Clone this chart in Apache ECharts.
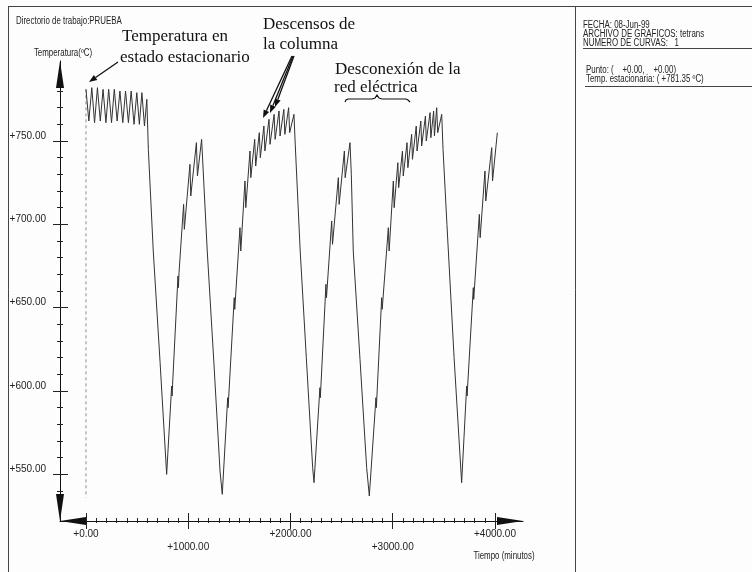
<!DOCTYPE html>
<html>
<head>
<meta charset="utf-8">
<title>Temperatura en estado estacionario</title>
<script src="https://cdn.jsdelivr.net/npm/echarts@6.0.0/dist/echarts.min.js"></script>
<style>
  html, body { margin: 0; padding: 0; background: #fdfdfd; }
  #chart { width: 752px; height: 572px; }
</style>
</head>
<body>
<div id="chart"></div>
<script>
// Valores: [tiempo (minutos), temperatura (ºC)]
const estacionario = [[0, 781], [28, 762], [57, 782], [84, 761], [112, 782], [140, 762], [167, 781],
    [195, 761], [222, 781], [250, 761], [277, 781], [305, 762], [332, 780], [360, 761], [387, 780],
    [415, 761], [442, 780], [470, 760], [497, 779], [522, 760], [547, 779], [572, 759], [595, 775]];

const ciclo1 = [[610, 745], [658, 684], [725, 617], [789, 550], [838, 603], [842, 597], [847, 604],
    [900, 669], [904, 662], [910, 671], [955, 712], [962, 697], [1017, 736], [1025, 717],
    [1080, 749], [1090, 729], [1131, 751]];

const ciclo2 = [[1186, 684], [1250, 618], [1311, 552], [1333, 538], [1386, 596], [1390, 590],
    [1450, 656], [1455, 649], [1506, 698], [1514, 684], [1555, 726], [1563, 710], [1604, 744],
    [1612, 728], [1650, 751], [1660, 735], [1695, 755], [1705, 740], [1740, 759], [1750, 744],
    [1790, 763], [1800, 748], [1840, 766], [1850, 751], [1888, 768], [1898, 753], [1935, 769],
    [1945, 754], [1982, 770], [1992, 755], [2034, 766]];

const ciclo3 = [[2045, 750], [2095, 684], [2155, 620], [2217, 554], [2230, 545], [2288, 602],
    [2292, 596], [2347, 664], [2352, 656], [2403, 702], [2411, 688], [2468, 728], [2476, 712],
    [2527, 744], [2535, 728], [2582, 749]];

const ciclo4 = [[2595, 730], [2614, 684], [2680, 619], [2745, 554], [2771, 537], [2836, 596],
    [2840, 590], [2892, 656], [2897, 649], [2957, 698], [2965, 684], [3006, 726], [3014, 710],
    [3050, 737], [3058, 722], [3095, 744], [3103, 729], [3140, 749], [3148, 734], [3185, 754],
    [3193, 739], [3230, 759], [3238, 744], [3275, 762], [3283, 747], [3320, 765], [3328, 750],
    [3365, 767], [3373, 752], [3400, 768], [3408, 753], [3430, 770], [3440, 755], [3479, 766]];

const ciclo5 = [[3492, 745], [3530, 700], [3600, 620], [3674, 545], [3723, 603], [3727, 597],
    [3788, 662], [3792, 655], [3847, 706], [3855, 692], [3902, 732], [3910, 714], [3968, 746],
    [3976, 726], [4023, 755]];

// linea discontinua en t = 0
const guiaInicio = [[0, 781], [0, 536]];

// rangos de los ejes
const xRango = [-254, 4274];
const yRango = [522, 798];
const xMarcas = [0, 4000];
const yMarcas = [550, 750];
const yMarcasMenores = [540, 780];

const curva = [].concat(estacionario, ciclo1, ciclo2, ciclo3, ciclo4, ciclo5);

const FUENTE = "'Liberation Sans', Arial, sans-serif";
const SERIF = "'Liberation Serif', 'Times New Roman', serif";
const NEGRO = '#222';

// zona del grafico en pixeles
const zona = {left: 60, top: 61, width: 463, height: 460};
const sx = zona.width / (xRango[1] - xRango[0]);
const sy = zona.height / (yRango[1] - yRango[0]);

function gridX(min, max) {
    return {left: zona.left + (min - xRango[0]) * sx, width: (max - min) * sx,
        top: zona.top, height: zona.height, outerBoundsMode: 'none'};
}
function gridY(min, max) {
    return {left: zona.left, width: zona.width, top: zona.top + (yRango[1] - max) * sy,
        height: (max - min) * sy, outerBoundsMode: 'none'};
}

function ejeOculto(grid) {
    return {type: 'value', gridIndex: grid, show: false, min: 0, max: 1};
}

function ejeMarcas(dim, grid, min, max, intervalo, dentro, largo, etiquetas) {
    return {
        type: 'value',
        gridIndex: grid,
        min: min,
        max: max,
        interval: intervalo,
        position: dim === 'x' ? 'bottom' : 'left',
        axisLine: {show: false, onZero: false},
        splitLine: {show: false},
        axisTick: {show: true, inside: dentro, length: largo, lineStyle: {color: NEGRO, width: 1}},
        axisLabel: etiquetas || {show: false},
    };
}

// texto estrecho, como la fuente original
function texto(x, y, t, extra) {
    return {
        type: 'text', x: x, y: y, z: 10, scaleX: 0.79,
        style: Object.assign({text: t, fill: NEGRO, fontFamily: FUENTE, fontSize: 10,
            verticalAlign: 'middle', align: 'left'}, extra || {}),
    };
}

function nota(x, y, t) {
    const el = texto(x, y, t, {fontFamily: SERIF, fontSize: 17, fill: '#111'});
    el.scaleX = 1;
    return el;
}

function flecha(x1, y1, x2, y2) {
    const ang = Math.atan2(y2 - y1, x2 - x1);
    const L = 8, W = 3;
    const bx = x2 - L * Math.cos(ang), by = y2 - L * Math.sin(ang);
    const px = -Math.sin(ang) * W, py = Math.cos(ang) * W;
    return [
        {type: 'line', z: 10, shape: {x1: x1, y1: y1, x2: bx, y2: by}, style: {stroke: '#111', lineWidth: 1.3}},
        {type: 'polygon', z: 10, shape: {points: [[x2, y2], [bx + px, by + py], [bx - px, by - py]]}, style: {fill: '#111'}},
    ];
}

const marco = {stroke: '#444', lineWidth: 1};

const graficos = [
    {type: 'line', shape: {x1: 8, y1: 6.5, x2: 752, y2: 6.5}, style: marco},
    {type: 'line', shape: {x1: 8.5, y1: 6.5, x2: 8.5, y2: 572}, style: marco},
    {type: 'line', shape: {x1: 575.5, y1: 6.5, x2: 575.5, y2: 572}, style: marco},
    {type: 'line', shape: {x1: 583, y1: 48.5, x2: 752, y2: 48.5}, style: marco},
    {type: 'line', shape: {x1: 585, y1: 86.5, x2: 752, y2: 86.5}, style: marco},
    texto(16, 21, 'Directorio de trabajo:PRUEBA'),
    texto(63, 53, 'Temperatura(ºC)', {align: 'center'}),
    texto(583, 25, 'FECHA: 08-Jun-99'),
    texto(583, 34, 'ARCHIVO DE GRAFICOS: tetrans'),
    texto(583, 43, 'NUMERO DE CURVAS:   1'),
    texto(586, 70, 'Punto: (    +0.00,    +0.00)'),
    texto(586, 79.5, 'Temp. estacionaria: ( +781.35 ºC)'),
    texto(504, 556, 'Tiempo (minutos)', {align: 'center'}),
    nota(122, 37, 'Temperatura en'),
    nota(120, 57.5, 'estado estacionario'),
    nota(263, 25, 'Descensos de'),
    nota(263, 45, 'la columna'),
    nota(335, 69.5, 'Desconexión de la'),
    nota(334, 87.5, 'red eléctrica'),
    {type: 'polyline', z: 10, shape: {points: [[345, 102], [346, 100], [348, 99], [372, 99], [375, 98],
        [377, 95], [379, 98], [382, 99], [406, 99], [408, 100], [410, 102]]},
        style: {stroke: '#111', lineWidth: 1.2, fill: null}},
].concat(flecha(118, 62, 89, 82), flecha(292, 56, 263, 118), flecha(293, 56, 270, 113), flecha(294, 56, 275, 107));

const option = {
    backgroundColor: '#fdfdfd',
    animation: false,
    grid: [
        {left: zona.left, top: zona.top, width: zona.width, height: zona.height, outerBoundsMode: 'none'},
        gridX(xMarcas[0], xMarcas[1]),
        gridY(yMarcas[0], yMarcas[1]),
        gridY(yMarcasMenores[0], yMarcasMenores[1]),
    ],
    xAxis: [
        {
            type: 'value', gridIndex: 0, min: xRango[0], max: xRango[1],
            axisLine: {show: true, onZero: false, symbol: ['triangle', 'triangle'], symbolSize: [8, 26],
                symbolOffset: [13, -13], lineStyle: {color: '#111', width: 1}},
            axisTick: {show: false}, axisLabel: {show: false}, splitLine: {show: false},
        },
        ejeMarcas('x', 1, xMarcas[0], xMarcas[1], 1000, false, 8, {
            show: true, margin: 7, color: NEGRO, fontFamily: FUENTE, fontSize: 10, lineHeight: 13,
            formatter: v => ((v / 1000) % 2 === 1 ? '\n' : '') + '+' + v.toFixed(2),
        }),
        ejeMarcas('x', 1, xMarcas[0], xMarcas[1], 1000, true, 8),
        ejeMarcas('x', 1, xMarcas[0], xMarcas[1], 100, false, 2),
        ejeMarcas('x', 1, xMarcas[0], xMarcas[1], 100, true, 3),
        ejeOculto(2),
        ejeOculto(3),
    ],
    yAxis: [
        {
            type: 'value', gridIndex: 0, min: yRango[0], max: yRango[1],
            axisLine: {show: true, onZero: false, symbol: ['triangle', 'triangle'], symbolSize: [8, 27],
                symbolOffset: [13.5, -13.5], lineStyle: {color: '#111', width: 1}},
            axisTick: {show: false}, axisLabel: {show: false}, splitLine: {show: false},
        },
        ejeOculto(1),
        ejeMarcas('y', 2, yMarcas[0], yMarcas[1], 50, false, 7, {
            show: true, margin: 14, color: NEGRO, fontFamily: FUENTE, fontSize: 10, verticalAlign: 'bottom',
            formatter: v => '+' + v.toFixed(2),
        }),
        ejeMarcas('y', 2, yMarcas[0], yMarcas[1], 50, true, 8),
        ejeMarcas('y', 3, yMarcasMenores[0], yMarcasMenores[1], 10, false, 3),
        ejeMarcas('y', 3, yMarcasMenores[0], yMarcasMenores[1], 10, true, 3),
    ],
    series: [
        {
            type: 'line', xAxisIndex: 0, yAxisIndex: 0, data: guiaInicio,
            symbol: 'none', z: 2,
            lineStyle: {color: '#8a8a8a', width: 1, type: [3, 3]},
        },
        {
            type: 'line', xAxisIndex: 0, yAxisIndex: 0, data: curva,
            symbol: 'none', showSymbol: false, z: 3,
            lineStyle: {color: '#333', width: 1},
        },
    ],
    graphic: graficos,
};

const chart = echarts.init(document.getElementById('chart'));
chart.setOption(option);
</script>
</body>
</html>
